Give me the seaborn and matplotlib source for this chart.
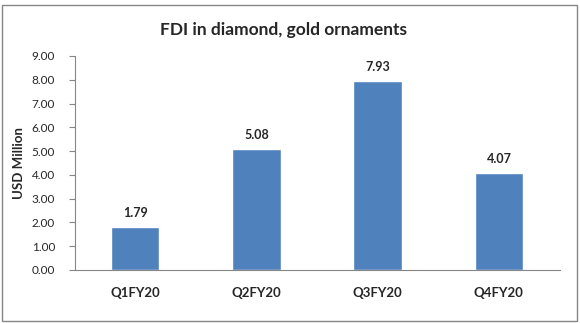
import matplotlib
matplotlib.use("Agg")
import matplotlib.pyplot as plt
import seaborn as sns
import pandas as pd
import numpy as np

categories = ["Q1FY20", "Q2FY20", "Q3FY20", "Q4FY20"]
values = [1.79, 5.08, 7.93, 4.07]
yticks = [0, 1, 2, 3, 4, 5, 6, 7, 8, 9]

sns.set_style("white")
plt.rcParams['font.family'] = ['Lato', 'DejaVu Sans']

df = pd.DataFrame({"Quarter": categories, "Value": values})

fig = plt.figure(figsize=(5.8, 3.23), dpi=100)
ax = fig.add_axes([74.5/580, 1-270/323, (559.5-74.5)/580, (270-56)/323])

sns.barplot(data=df, x="Quarter", y="Value", color="#4F81BD", width=0.4,
            saturation=1, ax=ax)

ax.set_xlim(-0.5, 3.5)
ax.set_ylim(0, 9)
ax.set_yticks(yticks)
ax.set_yticklabels([f"{t:.2f}" for t in yticks], fontsize=8.5)
ax.set_xticks(range(len(categories)))
ax.set_xticklabels(categories, fontsize=9.5, fontweight="bold")
ax.tick_params(axis="x", which="major", length=0, pad=12)
ax.set_xticks(np.arange(-0.5, 4, 1.0), minor=True)
ax.tick_params(axis="x", which="minor", length=4, color="#868686", width=0.8, direction="out")
ax.tick_params(axis="y", length=4, color="#868686", width=0.8, direction="out", left=True, pad=10)
ax.set_xlabel("")
ax.set_ylabel("USD Million", fontsize=9.5, fontweight="bold", labelpad=5)

for s in ["top", "right"]:
    ax.spines[s].set_visible(False)
for s in ["left", "bottom"]:
    ax.spines[s].set_color("#868686")
    ax.spines[s].set_linewidth(0.8)

for i, v in enumerate(values):
    ax.annotate(f"{v:.2f}", (i, v), xytext=(0, 6), textcoords="offset points",
                ha="center", va="bottom", fontsize=9, fontweight="bold")

fig.text(0.488, 1-30/323, "FDI in diamond, gold ornaments", ha="center", va="center",
         fontsize=12.5, fontweight="bold")

border = plt.Rectangle((2/580, 2/323), 575/580, 316/323, transform=fig.transFigure,
                       fill=False, edgecolor="#868686", linewidth=1)
fig.patches.append(border)

fig.savefig("out.png", dpi=100)
